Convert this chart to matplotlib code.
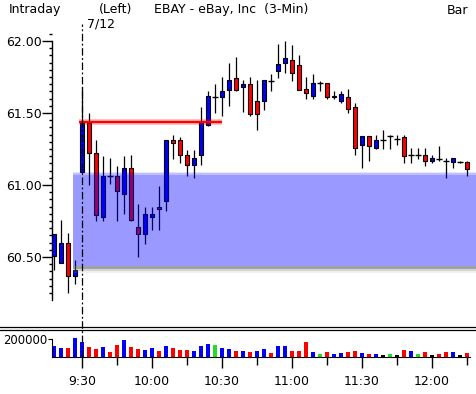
import numpy as np
import matplotlib
matplotlib.use('Agg')
import matplotlib.pyplot as plt
import matplotlib.transforms as mtransforms
from matplotlib.lines import Line2D
from matplotlib.ticker import MultipleLocator, FixedLocator

# 3-minute bars, bar 4 = 9:30 on 7/12 (first 4 bars are from the prior session)
opens = [60.51, 60.46, 60.60, 60.37, 61.09, 61.43, 61.22, 60.78, 61.06, 61.06,
         60.94, 61.12, 60.71, 60.66, 60.78, 60.85, 60.89, 61.31, 61.31, 61.21,
         61.14, 61.21, 61.42, 61.61, 61.61, 61.66, 61.74, 61.68, 61.70, 61.58,
         61.58, 61.72, 61.79, 61.85, 61.87, 61.83, 61.67, 61.62, 61.71, 61.71,
         61.61, 61.58, 61.61, 61.54, 61.28, 61.34, 61.26, 61.31, 61.34, 61.32,
         61.33, 61.21, 61.21, 61.21, 61.17, 61.18, 61.17, 61.16, 61.16, 61.16]
highs = [60.66, 60.76, 60.67, 60.48, 61.68, 61.50, 61.31, 61.20, 61.19, 61.13,
         61.20, 61.21, 60.87, 60.85, 60.85, 60.99, 61.31, 61.35, 61.33, 61.24,
         61.24, 61.54, 61.65, 61.70, 61.75, 61.85, 61.89, 61.73, 61.75, 61.73,
         61.73, 61.77, 61.98, 62.00, 61.97, 61.90, 61.75, 61.77, 61.72, 61.71,
         61.65, 61.65, 61.67, 61.57, 61.34, 61.34, 61.35, 61.38, 61.35, 61.35,
         61.35, 61.26, 61.26, 61.26, 61.21, 61.27, 61.19, 61.19, 61.17, 61.17]
lows = [60.41, 60.46, 60.25, 60.31, 61.09, 61.00, 60.75, 60.75, 61.01, 60.75,
        60.80, 60.75, 60.50, 60.59, 60.69, 60.69, 60.82, 61.18, 61.15, 61.06,
        61.05, 61.14, 61.41, 61.50, 61.48, 61.55, 61.65, 61.51, 61.48, 61.38,
        61.52, 61.65, 61.74, 61.78, 61.72, 61.66, 61.60, 61.60, 61.65, 61.60,
        61.60, 61.57, 61.50, 61.21, 61.12, 61.17, 61.25, 61.25, 61.25, 61.28,
        61.15, 61.15, 61.18, 61.13, 61.15, 61.17, 61.05, 61.12, 61.15, 61.06]
closes = [60.66, 60.60, 60.37, 60.41, 61.43, 61.22, 60.79, 61.06, 61.06, 60.96,
          61.12, 60.76, 60.66, 60.80, 60.80, 60.83, 61.31, 61.29, 61.21, 61.14,
          61.19, 61.44, 61.62, 61.61, 61.65, 61.73, 61.66, 61.70, 61.49, 61.49,
          61.73, 61.72, 61.84, 61.88, 61.78, 61.66, 61.64, 61.71, 61.71, 61.61,
          61.62, 61.63, 61.53, 61.26, 61.34, 61.27, 61.31, 61.31, 61.34, 61.32,
          61.20, 61.21, 61.21, 61.17, 61.19, 61.18, 61.17, 61.19, 61.16, 61.11]
volumes = [126, 100, 100, 211, 167, 111, 89, 111, 56, 137,
           189, 111, 89, 78, 100, 67, 122, 100, 78, 78,
           67, 122, 144, 133, 100, 89, 67, 67, 56, 67,
           89, 44, 122, 122, 67, 67, 167, 56, 33, 56,
           33, 44, 56, 67, 44, 33, 33, 22, 33, 22,
           78, 67, 33, 56, 22, 33, 56, 56, 22, 44]
vol_codes = "bbrbbrrbrr" "brrbbrbrrr" "bbbgbbrbrb" "brbbrrrbgr" "bbrrbrbkgk" "rbgrkrrbkr"
time_labels = ['9:30', '10:00', '10:30', '11:00', '11:30', '12:00']
time_ticks = [4, 14, 24, 34, 44, 54]
half_ticks = [9, 19, 29, 39, 49, 59]
session_start = 4
resist_level, resist_from, resist_to = 61.44, 3.6, 24
zone_lo, zone_hi, zone_from = 60.44, 61.07, 2.7

W, H = 476, 394
fig = plt.figure(figsize=(W / 100, H / 100), dpi=100)
plt.rcParams['font.family'] = 'DejaVu Sans'
FS = 9

ax = fig.add_axes([52 / W, 1 - 300 / H, 424 / W, 272 / H])
axv = fig.add_axes([52 / W, 1 - 357 / H, 424 / W, 26 / H], sharex=ax)

x = np.arange(len(opens))
o = np.array(opens); c = np.array(closes)
hi = np.array(highs); lo = np.array(lows)

# wicks
ax.vlines(x, lo, hi, color='black', lw=0.9, zorder=2)
up = c > o
dn = c < o
doji = ~(up | dn)
ax.bar(x[up], (c - o)[up], bottom=o[up], width=0.7, color='#0000ff',
       edgecolor='black', lw=0.8, zorder=3)
ax.bar(x[dn], (o - c)[dn], bottom=c[dn], width=0.7, color='#ff0000',
       edgecolor='black', lw=0.8, zorder=3)
ax.hlines(o[doji], x[doji] - 0.4, x[doji] + 0.4, color='black', lw=1.0, zorder=3)

# shaded zone drawn over the candles
xr = np.array([zone_from, 61])
ax.fill_between(xr, zone_lo, zone_hi, color='#0000ff', alpha=0.4, lw=0, zorder=5)
ax.fill_between(xr, zone_hi, zone_hi + 0.012, color='#0000ff', alpha=0.25, lw=0, zorder=5)
ax.fill_between(xr, zone_hi + 0.012, zone_hi + 0.022, color='#0000ff', alpha=0.1, lw=0, zorder=5)
ax.fill_between(xr, zone_lo - 0.02, zone_lo, color='#555555', alpha=0.55, lw=0, zorder=5)
ax.fill_between(xr, zone_lo - 0.035, zone_lo - 0.02, color='#777777', alpha=0.3, lw=0, zorder=5)
ax.fill_between(xr, zone_lo - 0.05, zone_lo - 0.035, color='#999999', alpha=0.15, lw=0, zorder=5)

# resistance line with glow
ax.plot([resist_from, resist_to], [resist_level] * 2, color='red', lw=4, alpha=0.3,
        solid_capstyle='butt', zorder=4)
ax.plot([resist_from, resist_to], [resist_level] * 2, color='red', lw=1.6,
        solid_capstyle='butt', zorder=4)

ax.set_xlim(-2 / 7, 60.29)
ax.set_ylim(62 - 259 / 144, 62 + 13 / 144)
for s in ['top', 'right', 'bottom']:
    ax.spines[s].set_visible(False)
ax.spines['left'].set_bounds(ax.get_ylim()[0], 62.0)
ax.spines['left'].set_linewidth(1)
ax.yaxis.set_major_locator(MultipleLocator(0.5))
ax.yaxis.set_minor_locator(MultipleLocator(0.05))
ax.yaxis.set_major_formatter(plt.FuncFormatter(lambda v, p: f'{v:.2f}'))
ax.tick_params(axis='y', which='major', length=7, pad=0.5, labelsize=FS, width=1)
ax.tick_params(axis='y', which='minor', length=2.2, width=1)
ax.tick_params(axis='x', which='both', bottom=False, labelbottom=False)

# volume panel
cmap = {'b': '#0000ff', 'r': '#ff0000', 'g': '#22dd22', 'k': '#000000'}
axv.bar(x, np.array(volumes) * 1000, width=0.6, color=[cmap[k] for k in vol_codes])
axv.set_ylim(0, 200000 * 26 / 18)
for s in ['top', 'right']:
    axv.spines[s].set_visible(False)
axv.spines['left'].set_bounds(0, 200000)
axv.spines['bottom'].set_bounds(-2 / 7, 59.4)
axv.set_yticks([200000])
axv.set_yticklabels(['200000'])
axv.tick_params(axis='y', length=3, pad=0.3, labelsize=8.4)
axv.xaxis.set_major_locator(FixedLocator(time_ticks))
axv.xaxis.set_minor_locator(FixedLocator(half_ticks))
axv.set_xticklabels(time_labels)
axv.tick_params(axis='x', which='major', length=8, width=1, pad=5, labelsize=FS)
axv.tick_params(axis='x', which='minor', length=5.5, width=1)

# session divider spanning both panels
tr = mtransforms.blended_transform_factory(ax.transData, fig.transFigure)
fig.add_artist(Line2D([session_start] * 2, [1 - 357 / H, 1 - 24 / H], transform=tr,
                      color='black', lw=0.9, linestyle=(0, (6, 2, 1.5, 2))))

# panel separator
for yy in (327, 330):
    fig.add_artist(Line2D([0, 1], [1 - yy / H] * 2, transform=fig.transFigure,
                          color='black', lw=0.9))

def ftext(px, py, s):
    fig.text(px / W, 1 - py / H, s, fontsize=FS, ha='left', va='center')

ftext(9, 10, 'Intraday')
ftext(99, 10, '(Left)')
ftext(154, 10, 'EBAY - eBay, Inc  (3-Min)')
ftext(447, 10, 'Bar')
ftext(87, 24, '7/12')

fig.savefig('out.png', dpi=100)
